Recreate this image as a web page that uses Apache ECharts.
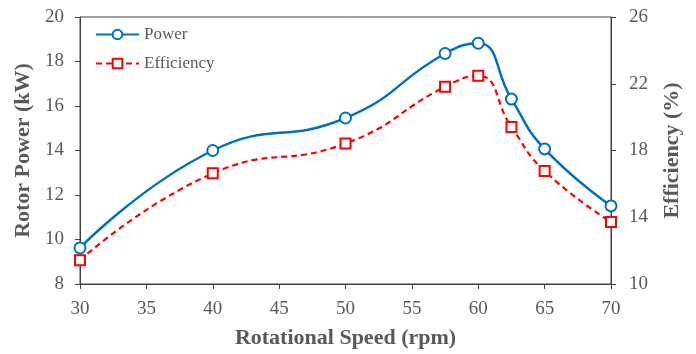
<!DOCTYPE html>
<html>
<head>
<meta charset="utf-8">
<script src="https://cdn.jsdelivr.net/npm/echarts@6/dist/echarts.min.js"></script>
<style>
  html, body { margin: 0; padding: 0; background: #fff; }
  #chart { width: 696px; height: 354px; }
</style>
</head>
<body>
<div id="chart"></div>
<script>
// Rotational speed (rpm)
const speed = [30, 40, 50, 57.5, 60, 62.5, 65, 70];
// Rotor power (kW)
const power = [9.62, 14.0, 15.46, 18.36, 18.82, 16.31, 14.07, 11.51];
// Efficiency (%)
const efficiency = [11.43, 16.63, 18.42, 21.82, 22.48, 19.41, 16.77, 13.72];

const FONT = '"Liberation Serif", "Times New Roman", serif';
const TEXT = '#595959';
const AXIS = '#404040';

const pairs = (xs, ys) => xs.map((x, i) => [x, ys[i]]);

const axisCommon = {
  axisLine: { show: true, lineStyle: { color: AXIS, width: 1 } },
  axisTick: { show: true, inside: false, length: 5, lineStyle: { color: AXIS } },
  splitLine: { show: false },
  axisLabel: { color: TEXT, fontFamily: FONT, fontSize: 19 },
  nameTextStyle: { color: TEXT, fontFamily: FONT, fontSize: 22, fontWeight: 'bold' },
  nameLocation: 'middle'
};

const chart = echarts.init(document.getElementById('chart'), null, { renderer: 'canvas' });
chart.setOption({
  animation: false,
  backgroundColor: '#fff',
  grid: {
    left: 80, right: 85, top: 17, bottom: 69,
    show: true, borderColor: AXIS, borderWidth: 1
  },
  legend: {
    orient: 'vertical',
    left: 95, top: 26, padding: 0,
    itemWidth: 43, itemHeight: 12, itemGap: 12,
    textStyle: { color: TEXT, fontFamily: FONT, fontSize: 17 },
    data: ['Power', 'Efficiency']
  },
  xAxis: Object.assign({}, axisCommon, {
    type: 'value', min: 30, max: 70, interval: 5,
    name: 'Rotational Speed (rpm)', nameGap: 43,
    axisLabel: Object.assign({}, axisCommon.axisLabel, { margin: 16 })
  }),
  yAxis: [
    Object.assign({}, axisCommon, {
      type: 'value', min: 8, max: 20, interval: 2, position: 'left',
      name: 'Rotor Power (kW)', nameGap: 45,
      axisLabel: Object.assign({}, axisCommon.axisLabel, { margin: 16 })
    }),
    Object.assign({}, axisCommon, {
      type: 'value', min: 10, max: 26, interval: 4, position: 'right',
      name: 'Efficiency (%)', nameGap: 50, nameRotate: 90,
      axisLabel: Object.assign({}, axisCommon.axisLabel, { margin: 18 })
    })
  ],
  series: [
    {
      name: 'Power', type: 'line', yAxisIndex: 0,
      data: pairs(speed, power),
      smooth: 0.5,
      symbol: 'circle', symbolSize: 11,
      itemStyle: { color: '#fff', borderColor: '#0070C0', borderWidth: 2 },
      lineStyle: { color: '#0070C0', width: 2.5 },
      z: 3
    },
    {
      name: 'Efficiency', type: 'line', yAxisIndex: 1,
      data: pairs(speed, efficiency),
      smooth: 0.5,
      symbol: 'rect', symbolSize: 10,
      itemStyle: { color: '#fff', borderColor: '#FF0000', borderWidth: 2 },
      lineStyle: { color: '#FF0000', width: 2.2, type: [6, 4] },
      z: 2
    }
  ]
});
</script>
</body>
</html>
